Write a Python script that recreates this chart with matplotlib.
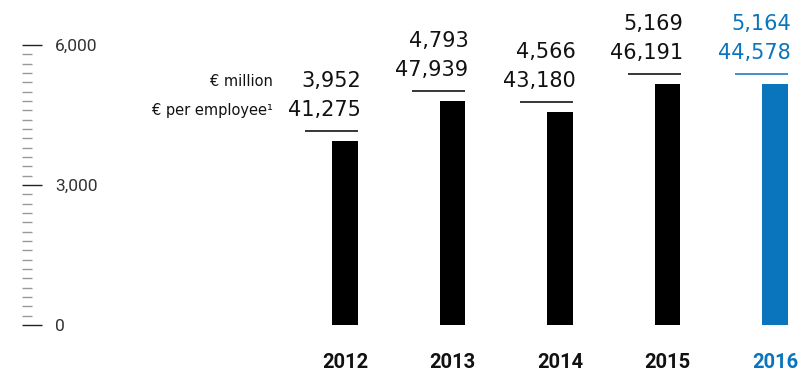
import matplotlib
matplotlib.use("Agg")
import matplotlib.pyplot as plt
from matplotlib.ticker import MultipleLocator, FuncFormatter
from matplotlib.transforms import offset_copy

# ---------- Dados ----------
anos = ["2012", "2013", "2014", "2015", "2016"]
milhoes = [3952, 4793, 4566, 5169, 5164]
por_empregado = [41275, 47939, 43180, 46191, 44578]
label_milhoes = "€ million"
label_empregado = "€ per employee¹"

PRETO = "#000000"
AZUL = "#0a74bd"
cores = [PRETO, PRETO, PRETO, PRETO, AZUL]

PX = 0.72  # 1 pixel em pontos (dpi 100)

fig = plt.figure(figsize=(8.08, 3.74), dpi=100)
ax = fig.add_axes([0, 0.131, 1, 0.7487])

x = list(range(len(anos)))
ax.bar(x, milhoes, width=0.233, color=cores, zorder=2)

ax.set_xlim(-3.209, 4.307)
ax.set_ylim(0, 6000)

for s in ax.spines.values():
    s.set_visible(False)

# ---------- Eixo Y: marcas à esquerda, rótulos à direita das marcas ----------
ax.spines["left"].set_position(("data", -3.005))
ax.spines["right"].set_position(("data", -2.698))
ax.yaxis.set_major_locator(MultipleLocator(3000))
ax.yaxis.set_minor_locator(MultipleLocator(200))
ax.yaxis.set_major_formatter(FuncFormatter(lambda v, p: f"{int(v):,}"))
ax.tick_params(axis="y", which="both", direction="in", left=True, right=False,
               labelleft=False, labelright=True, pad=0)
ax.tick_params(axis="y", which="major", length=20 * PX, width=1.0, color="#222222",
               labelsize=12.5, labelcolor="#333333")
ax.tick_params(axis="y", which="minor", length=10 * PX, width=1.0, color="#999999")
for t in ax.get_yticklabels():
    t.set_fontfamily("Roboto")

# ---------- Eixo X: anos ----------
ax.set_xticks(x)
ax.set_xticklabels(anos, fontfamily="Roboto", fontweight="bold", fontsize=14.5)
ax.tick_params(axis="x", length=0, pad=20)
for t, c in zip(ax.get_xticklabels(), cores):
    t.set_color(c if c == AZUL else "#111111")

# ---------- Linhas e valores acima das barras ----------
trans_linha = offset_copy(ax.transData, fig=fig, x=0, y=10 * PX, units="points")
for xi, v, c in zip(x, milhoes, cores):
    ax.hlines(v, xi - 0.372, xi + 0.121, colors=c, linewidth=1.1,
              transform=trans_linha, clip_on=False)
    cor_txt = c if c == AZUL else "#111111"
    ax.annotate(f"{v:,}", xy=(xi, v), xytext=(16 * PX, 54 * PX),
                textcoords="offset points", ha="right", va="baseline",
                fontsize=15, color=cor_txt, annotation_clip=False)
for xi, v, e, c in zip(x, milhoes, por_empregado, cores):
    cor_txt = c if c == AZUL else "#111111"
    ax.annotate(f"{e:,}", xy=(xi, v), xytext=(16 * PX, 25 * PX),
                textcoords="offset points", ha="right", va="baseline",
                fontsize=15, color=cor_txt, annotation_clip=False)

# legendas das linhas (ao lado de 2012)
ax.annotate(label_milhoes, xy=(x[0], milhoes[0]), xytext=(-72 * PX, 55 * PX),
            textcoords="offset points", ha="right", va="baseline",
            fontsize=10.5, color="#111111", annotation_clip=False)
ax.annotate(label_empregado, xy=(x[0], milhoes[0]), xytext=(-72 * PX, 26 * PX),
            textcoords="offset points", ha="right", va="baseline",
            fontsize=10.5, color="#111111", annotation_clip=False)

fig.savefig("out.png", dpi=100)
